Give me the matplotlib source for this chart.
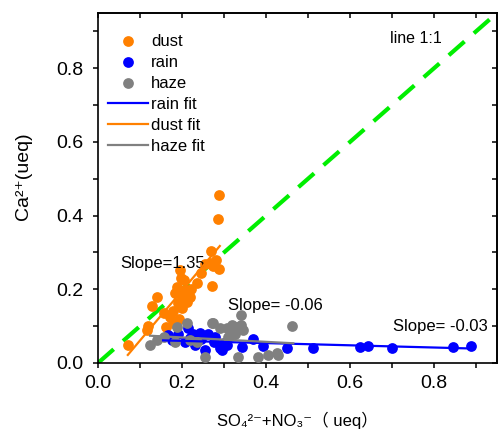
import matplotlib
matplotlib.use("Agg")
import matplotlib.pyplot as plt
import numpy as np
from matplotlib.ticker import MultipleLocator

plt.rcParams['font.family'] = ['Liberation Sans', 'DejaVu Sans', 'Noto Sans CJK SC']

# dust points
dust_x = [0.288, 0.286, 0.268, 0.267, 0.289, 0.271, 0.236, 0.197, 0.187, 0.207,
          0.219, 0.183, 0.191, 0.141, 0.129, 0.156, 0.171, 0.179, 0.118, 0.116,
          0.071, 0.163, 0.199, 0.195, 0.255, 0.273, 0.205, 0.212, 0.178, 0.193,
          0.222, 0.201, 0.185, 0.246, 0.281]
dust_y = [0.456, 0.390, 0.305, 0.271, 0.255, 0.210, 0.216, 0.230, 0.207, 0.198,
          0.180, 0.190, 0.162, 0.178, 0.155, 0.135, 0.126, 0.108, 0.100, 0.090,
          0.048, 0.098, 0.180, 0.252, 0.270, 0.263, 0.225, 0.165, 0.140, 0.120,
          0.200, 0.150, 0.110, 0.245, 0.280]

# rain points
rain_x = [0.624, 0.644, 0.699, 0.846, 0.887, 0.290, 0.342, 0.368, 0.394, 0.449,
          0.511, 0.166, 0.191, 0.215, 0.225, 0.243, 0.263, 0.231, 0.255, 0.275,
          0.295, 0.306, 0.207, 0.175, 0.279, 0.245, 0.218, 0.300]
rain_y = [0.044, 0.047, 0.042, 0.044, 0.047, 0.040, 0.044, 0.064, 0.046, 0.040,
          0.040, 0.076, 0.080, 0.094, 0.080, 0.082, 0.080, 0.049, 0.035, 0.058,
          0.035, 0.049, 0.058, 0.062, 0.071, 0.066, 0.068, 0.055]

# haze points
haze_x = [0.340, 0.463, 0.271, 0.187, 0.318, 0.330, 0.341, 0.306, 0.346, 0.326,
          0.310, 0.124, 0.140, 0.156, 0.183, 0.219, 0.255, 0.334, 0.382, 0.405,
          0.425, 0.429, 0.213, 0.273, 0.235, 0.290, 0.320]
haze_y = [0.130, 0.101, 0.108, 0.098, 0.103, 0.098, 0.103, 0.094, 0.089, 0.080,
          0.071, 0.049, 0.062, 0.071, 0.058, 0.062, 0.017, 0.017, 0.017, 0.022,
          0.026, 0.022, 0.109, 0.109, 0.058, 0.095, 0.090]

# fit lines: slope, intercept, x range
dust_fit = (1.35, -0.074, 0.071, 0.290)
rain_fit = (-0.03, 0.066, 0.155, 0.887)
haze_fit = (-0.06, 0.0814, 0.124, 0.465)

slope_labels = ["Slope=1.35", "Slope= -0.06", "Slope= -0.03"]
legend_labels = ["dust", "rain", "haze", "rain fit", "dust fit", "haze fit"]

c_dust = '#FF8000'
c_rain = '#0000FF'
c_haze = '#808080'

fig = plt.figure(figsize=(5.0, 4.33), dpi=100)
ax = fig.add_axes([0.196, 0.1617, 0.798, 0.8083])

ax.plot([0, 0.95], [0, 0.95], color='#00EE00', lw=3, dashes=(5, 3), zorder=1)

sd = ax.scatter(dust_x, dust_y, s=60, color=c_dust, zorder=3, linewidths=0)
sr = ax.scatter(rain_x, rain_y, s=60, color=c_rain, zorder=3, linewidths=0)
sh = ax.scatter(haze_x, haze_y, s=60, color=c_haze, zorder=3, linewidths=0)

def fitline(p, color):
    m, b, x0, x1 = p
    xs = np.array([x0, x1])
    return ax.plot(xs, m * xs + b, color=color, lw=1.6, zorder=4)[0]

lr = fitline(rain_fit, c_rain)
ld = fitline(dust_fit, c_dust)
lh = fitline(haze_fit, c_haze)

ax.text(0.052, 0.271, slope_labels[0], fontsize=12, va='center', ha='left')
ax.text(0.31, 0.155, slope_labels[1], fontsize=12, va='center', ha='left')
ax.text(0.702, 0.098, slope_labels[2], fontsize=12, va='center', ha='left')
ax.text(0.695, 0.881, "line 1:1", fontsize=11.5, va='center', ha='left')

ax.set_xlim(0, 0.95)
ax.set_ylim(0, 0.95)
ax.xaxis.set_major_locator(MultipleLocator(0.2))
ax.xaxis.set_minor_locator(MultipleLocator(0.1))
ax.yaxis.set_major_locator(MultipleLocator(0.2))
ax.yaxis.set_minor_locator(MultipleLocator(0.1))
# bottom/left ticks outward, top/right ticks inward
ax.tick_params(which='both', direction='out', length=3.6, width=1.1, labelsize=14)
ax.tick_params(axis='x', which='both', pad=5.4)
ax.tick_params(axis='y', which='both', pad=7)

ax_top = ax.secondary_xaxis('top')
ax_top.xaxis.set_major_locator(MultipleLocator(0.1))
ax_top.tick_params(direction='in', length=3.6, width=1.1, labeltop=False)
ax_right = ax.secondary_yaxis('right')
ax_right.yaxis.set_major_locator(MultipleLocator(0.1))
ax_right.tick_params(direction='in', length=3.6, width=1.1, labelright=False)

for s in ax.spines.values():
    s.set_linewidth(1.2)
ax_top.spines['top'].set_linewidth(1.2)
ax_right.spines['right'].set_linewidth(1.2)

ax.set_xlabel("SO₄²⁻+NO₃⁻（ ueq）", fontsize=12, labelpad=14)
ax.set_ylabel("Ca²⁺(ueq)", fontsize=14)
ax.yaxis.set_label_coords(-0.165, 0.534)

leg = ax.legend([sd, sr, sh, lr, ld, lh], legend_labels, loc='upper left',
                bbox_to_anchor=(0.008, 0.96), frameon=False, fontsize=12,
                labelspacing=0.36, handlelength=2.4, handletextpad=0.2,
                borderaxespad=0.0, borderpad=0.4, scatterpoints=1)

fig.savefig("out.png", dpi=100)
